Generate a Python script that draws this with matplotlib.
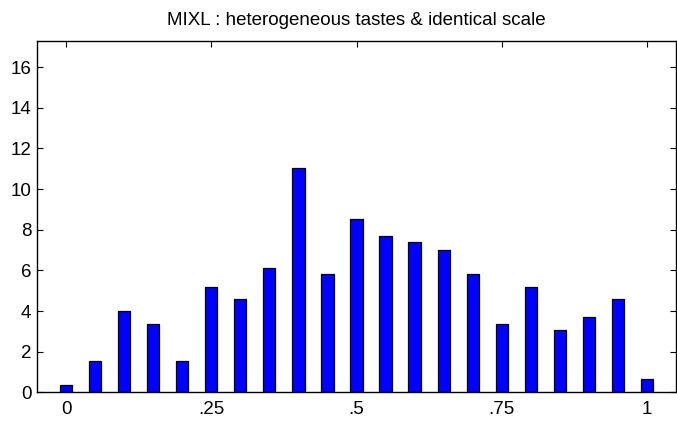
import numpy as np
import matplotlib.pyplot as plt

# share of observations falling in each bin (bins centred every 0.05)
bin_centres = np.arange(21) * 0.05
shares = [0.34, 1.53, 4.0, 3.35, 1.53, 5.17, 4.61, 6.12, 11.03, 5.84, 8.55,
          7.67, 7.39, 7.01, 5.84, 3.35, 5.17, 3.05, 3.72, 4.61, 0.64]

x_ticks = [0, 0.25, 0.5, 0.75, 1]
x_tick_labels = ["0", ".25", ".5", ".75", "1"]
y_ticks = [0, 2, 4, 6, 8, 10, 12, 14, 16]

plt.rcParams["font.family"] = ["Liberation Sans", "DejaVu Sans"]

fig = plt.figure(figsize=(6.77, 4.23), dpi=100)
ax = fig.add_axes([37 / 677, 1 - 392.3 / 423, 639 / 677, 351.6 / 423])

ax.bar(bin_centres, shares, width=0.021, color="#0000ff",
       edgecolor="black", linewidth=0.9, zorder=2)

ax.set_xlim(-0.05, 1.05)
ax.set_ylim(0, 17.3)
ax.set_xticks(x_ticks)
ax.set_xticklabels(x_tick_labels)
ax.set_yticks(y_ticks)

ax.tick_params(direction="in", length=4.5, width=0.8, labelsize=13.5,
               top=True, right=True, pad=4)
ax.tick_params(axis="x", pad=6)
for side in ax.spines.values():
    side.set_linewidth(1.0)

ax.set_title("MIXL : heterogeneous tastes & identical scale", fontsize=13.5,
             pad=11)

fig.savefig("out.png", dpi=100)
